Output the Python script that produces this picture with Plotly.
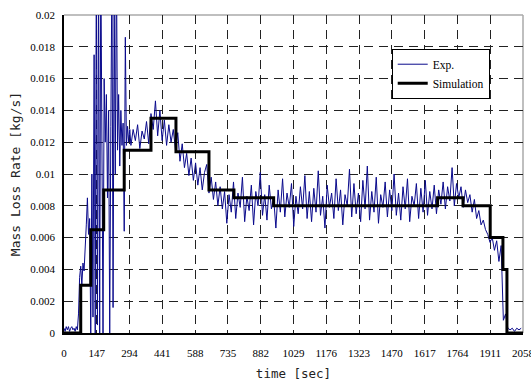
import plotly.graph_objects as go

# ---------------- data ----------------
exp_time_early = [0, 5, 10, 15, 20, 25, 30, 35, 40, 45, 50, 55, 60,
                  65, 70, 75, 80, 85, 90, 95, 100, 105, 110, 115,
                  120, 125, 130, 135, 140, 145, 150, 155, 160, 165, 170, 175,
                  180, 185, 190, 195, 200, 205, 210, 215, 220, 225, 230, 235,
                  240, 245, 250, 255, 260, 265, 270, 275, 280, 285, 290, 295]
exp_rate_early = [0.0003, 0.0001, 0.0004, 0.0002, 0.0004, 0.0001, 0.0003, 0.0004, 0.0002, 0.0003, 0.0001, 0.0004, 0.0002,
                  0.0012, 0.0035, 0.0042, 0.0030, 0.0044, 0.0039, 0.0050, 0.0068, 0.0085, 0.0062, 0.0072,
                  0.0000, 0.0100, 0.0010, 0.0175, 0.0000, 0.0240, 0.0005, 0.0230, 0.0000, 0.0240, 0.0060, 0.0000,
                  0.0160, 0.0120, 0.0150, 0.0085, 0.0140, 0.0000, 0.0130, 0.0230, 0.0016, 0.0210, 0.0100, 0.0240,
                  0.0115, 0.0150, 0.0105, 0.0140, 0.0118, 0.0132, 0.0064, 0.0186, 0.0118, 0.0130, 0.0120, 0.0128]

exp_time_main = list(range(300, 2060, 10))
exp_rate_main = [
    # 300-490
    0.0118, 0.0128, 0.0121, 0.0131, 0.0116, 0.0127, 0.0122, 0.0133, 0.0119, 0.0138,
    0.0128, 0.0146, 0.0124, 0.0140, 0.0121, 0.0134, 0.0118, 0.0131, 0.0120, 0.0128,
    # 500-690
    0.0115, 0.0126, 0.0108, 0.0119, 0.0104, 0.0113, 0.0099, 0.0110, 0.0096, 0.0107,
    0.0093, 0.0104, 0.0090, 0.0101, 0.0106, 0.0088, 0.0098, 0.0084, 0.0095, 0.0080,
    # 700-890
    0.0092, 0.0078, 0.0089, 0.0069, 0.0087, 0.0076, 0.0095, 0.0072, 0.0088, 0.0079,
    0.0098, 0.0070, 0.0086, 0.0077, 0.0093, 0.0068, 0.0089, 0.0080, 0.0101, 0.0074,
    # 900-1090
    0.0087, 0.0071, 0.0093, 0.0078, 0.0085, 0.0066, 0.0090, 0.0076, 0.0097, 0.0073,
    0.0088, 0.0079, 0.0094, 0.0067, 0.0086, 0.0075, 0.0092, 0.0078, 0.0099, 0.0072,
    # 1100-1290
    0.0089, 0.0070, 0.0091, 0.0076, 0.0102, 0.0074, 0.0086, 0.0066, 0.0093, 0.0079,
    0.0088, 0.0072, 0.0097, 0.0077, 0.0090, 0.0068, 0.0087, 0.0080, 0.0103, 0.0073,
    # 1300-1490
    0.0094, 0.0075, 0.0088, 0.0070, 0.0096, 0.0078, 0.0105, 0.0071, 0.0089, 0.0076,
    0.0098, 0.0069, 0.0087, 0.0079, 0.0095, 0.0073, 0.0090, 0.0077, 0.0100, 0.0074,
    # 1500-1690
    0.0088, 0.0071, 0.0092, 0.0078, 0.0097, 0.0070, 0.0086, 0.0080, 0.0094, 0.0072,
    0.0091, 0.0076, 0.0096, 0.0074, 0.0089, 0.0078, 0.0093, 0.0075, 0.0090, 0.0081,
    # 1700-1890
    0.0095, 0.0078, 0.0092, 0.0083, 0.0104, 0.0080, 0.0094, 0.0085, 0.0092, 0.0079,
    0.0090, 0.0082, 0.0087, 0.0076, 0.0084, 0.0072, 0.0077, 0.0068, 0.0071, 0.0065,
    # 1900-2050
    0.0062, 0.0057, 0.0060, 0.0052, 0.0058, 0.0045, 0.0055, 0.0008, 0.0012, 0.0003,
    0.0002, 0.0003, 0.0001, 0.0003, 0.0002, 0.0003,
]

# Simulation (step function)
sim_time = [0, 75, 120, 178, 270, 390, 502, 650, 762, 940, 1675, 1789, 1911, 1968, 1986, 2058]
sim_rate = [0, 0.003, 0.0065, 0.009, 0.0115, 0.0135, 0.0114, 0.009, 0.0085, 0.008, 0.0085, 0.008, 0.006, 0.004, 0, 0]

x_ticks = [0, 147, 294, 441, 588, 735, 882, 1029, 1176, 1323, 1470, 1617, 1764, 1911, 2058]
y_ticks = [0, 0.002, 0.004, 0.006, 0.008, 0.01, 0.012, 0.014, 0.016, 0.018, 0.02]
y_tick_text = ["0", "0.002", "0.004", "0.006", "0.008", "0.01", "0.012", "0.014", "0.016", "0.018", "0.02"]

# ---------------- figure ----------------
serif = "Liberation Serif, Times New Roman, serif"
mono = "DejaVu Sans Mono, monospace"

fig = go.Figure()
fig.add_trace(go.Scatter(
    x=exp_time_early + exp_time_main,
    y=exp_rate_early + exp_rate_main,
    mode="lines", name="Exp.",
    line=dict(color="#0a0a8c", width=1),
))
fig.add_trace(go.Scatter(
    x=sim_time, y=sim_rate, mode="lines", name="Simulation",
    line=dict(color="black", width=3, shape="hv"),
))

fig.update_layout(
    width=531, height=387,
    margin=dict(l=64, r=8, t=15, b=54),
    paper_bgcolor="white", plot_bgcolor="white",
    font=dict(family=serif, size=11, color="black"),
    showlegend=True,
    legend=dict(
        x=0.714, y=0.894, xanchor="left", yanchor="top",
        bgcolor="white", bordercolor="black", borderwidth=1,
        font=dict(family=serif, size=11.5, color="black"),
        tracegroupgap=0, itemwidth=30,
    ),
)

fig.update_xaxes(
    range=[0, 2058], tickvals=x_ticks, ticktext=[str(v) for v in x_ticks],
    showgrid=True, gridcolor="#222", gridwidth=1, griddash="9px,6px",
    showline=True, linecolor="black", linewidth=1.5,
    zeroline=False, ticks="", automargin=False,
    ticklabeloverflow="allow", ticklabelstandoff=9,
    tickfont=dict(family=serif, size=11, color="black"),
    title=dict(text="time [sec]", font=dict(family=mono, size=12.5, color="#222"), standoff=11),
)
fig.update_yaxes(
    range=[0, 0.02], tickvals=y_ticks, ticktext=y_tick_text,
    showgrid=True, gridcolor="#222", gridwidth=1, griddash="9px,6px",
    showline=True, linecolor="black", linewidth=1.5,
    zeroline=False, ticks="", automargin=False,
    ticklabeloverflow="allow", ticklabelstandoff=5,
    tickfont=dict(family=serif, size=11, color="black"),
    title=dict(text="Mass Loss Rate [kg/s]", font=dict(family=mono, size=13, color="#222"), standoff=7),
)

# grey frame on top and right
fig.add_shape(type="line", xref="paper", yref="paper", x0=0, x1=1, y0=1, y1=1,
              line=dict(color="#aaaaaa", width=1.5), layer="below")
fig.add_shape(type="line", xref="paper", yref="paper", x0=1, x1=1, y0=0, y1=1,
              line=dict(color="#aaaaaa", width=1.5), layer="below")

fig.write_html(
    "out.html",
    config={"displayModeBar": False},
    post_script="document.body.style.margin='0';document.body.style.overflow='hidden';",
)
